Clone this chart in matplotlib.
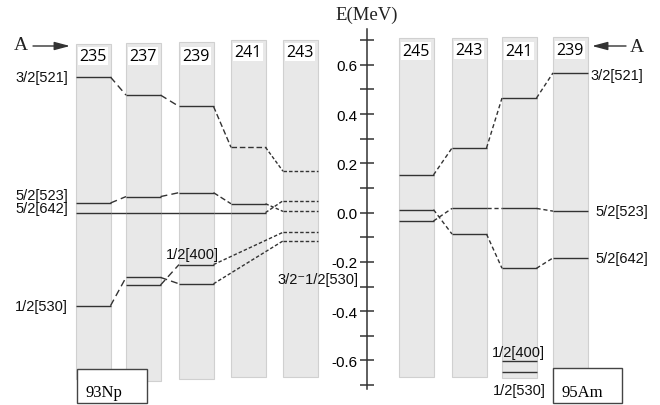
import matplotlib
matplotlib.use('Agg')
import matplotlib.pyplot as plt
from matplotlib.patches import Rectangle

plt.rcParams['font.family'] = ['Liberation Sans', 'DejaVu Sans']
plt.rcParams['axes.unicode_minus'] = False

# isotopes (mass number A) shown in each panel
np_columns = ['235', '237', '239', '241', '243']
am_columns = ['245', '243', '241', '239']

# single-particle level energies in MeV, one value per column (None = not shown)
np_3_2_521 = [0.550, 0.477, 0.431, 0.265, 0.168]
np_5_2_523 = [0.039, 0.065, 0.081, 0.036, 0.005]
np_5_2_642 = [0.000, 0.000, 0.000, 0.000, 0.048]
np_1_2_530 = [-0.378, -0.263, -0.289, None, -0.115]
np_1_2_400 = [None, -0.294, -0.211, None, -0.080]

am_3_2_521 = [0.153, 0.262, 0.465, 0.567]
am_5_2_523 = [-0.034, 0.017, 0.017, 0.006]
am_5_2_642 = [0.012, -0.087, -0.226, -0.184]
am_1_2_400 = [None, None, -0.604, None]
am_1_2_530 = [None, None, -0.648, None]

# layout: the reference is drawn in pixel columns, energy maps to pixel rows
PX_PER_MEV = 246.4
ROW_OF_ZERO = 213.6


def e_of_row(row):
    return (ROW_OF_ZERO - row) / PX_PER_MEV


np_left = [76, 126, 179, 231, 283]
np_top = [45, 44, 43, 41, 41]
np_bottom = [380, 382, 380, 378, 378]
np_label_row = [57, 57, 57, 53, 53]
am_left = [399, 452, 502, 553]
am_top = [39, 39, 38, 38]
am_bottom = [378, 378, 379, 378]
am_label_row = [52, 51, 52, 51]
BAR_W = 34.5

LINE_C = '#333333'
BAR_FC = '#e8e8e8'
BAR_EC = '#d0d0d0'
LONG_DASH = (0, (5, 3))
MID_DASH = (0, (4, 2))
FINE_DASH = (0, (2.5, 1.5))

fig = plt.figure(figsize=(6.6, 4.06), dpi=100)
ax = fig.add_axes([0, 0, 1, 1])
ax.set_xlim(0, 660)
ax.set_ylim(e_of_row(406), e_of_row(0))
ax.patch.set_alpha(0)


def draw_bars(lefts, tops, bottoms, names, label_rows):
    centers = [l + BAR_W / 2 for l in lefts]
    heights = [e_of_row(t) - e_of_row(b) for t, b in zip(tops, bottoms)]
    ax.bar(centers, heights, bottom=[e_of_row(b) for b in bottoms], width=BAR_W,
           color=BAR_FC, edgecolor=BAR_EC, linewidth=0.8, zorder=1)
    for c, n, r in zip(centers, names, label_rows):
        ax.text(c, e_of_row(r), n, ha='center', va='center', fontsize=11.5,
                family='Open Sans', zorder=5,
                bbox=dict(fc='white', ec='none', pad=1.0))


def draw_levels(lefts, values, level_style, gap_style):
    prev = None
    for i, v in enumerate(values):
        if v is None:
            continue
        x0 = lefts[i]
        ax.plot([x0, x0 + BAR_W], [v, v], color=LINE_C, lw=1.0,
                linestyle=level_style(i), zorder=3, solid_capstyle='butt')
        if prev is not None:
            j, pv = prev
            ax.plot([lefts[j] + BAR_W, x0], [pv, v], color=LINE_C, lw=1.0,
                    linestyle=gap_style(j, i), zorder=3, solid_capstyle='butt')
        prev = (i, v)


draw_bars(np_left, np_top, np_bottom, np_columns, np_label_row)
draw_bars(am_left, am_top, am_bottom, am_columns, am_label_row)

last = len(np_columns) - 1


def np_level(i, dashed_at=()):
    if i == last:
        return FINE_DASH
    if i in dashed_at:
        return MID_DASH
    return '-'


def np_gap(j, i, solid=False):
    if i == last:
        return FINE_DASH
    if solid:
        return '-'
    return LONG_DASH if i < 3 else MID_DASH


draw_levels(np_left, np_3_2_521, lambda i: np_level(i, dashed_at=(3,)), np_gap)
draw_levels(np_left, np_5_2_523, np_level, np_gap)
draw_levels(np_left, np_5_2_642, np_level, lambda j, i: np_gap(j, i, solid=True))
draw_levels(np_left, np_1_2_530, np_level, np_gap)
draw_levels(np_left, np_1_2_400, np_level, np_gap)

for series in [am_3_2_521, am_5_2_523, am_5_2_642, am_1_2_400, am_1_2_530]:
    draw_levels(am_left, series, lambda i: '-', lambda j, i: (0, (3, 2)))

# level labels
lab = dict(fontsize=10.5, color='#111111', zorder=6)
ax.text(68, np_3_2_521[0], '3/2[521]', ha='right', va='center', **lab)
ax.annotate('5/2[523]', (68, np_5_2_523[0]), xytext=(0, 8), textcoords='offset pixels',
            ha='right', va='center', **lab)
ax.annotate('5/2[642]', (68, np_5_2_642[0]), xytext=(0, 5), textcoords='offset pixels',
            ha='right', va='center', **lab)
ax.text(68, np_1_2_530[0], '1/2[530]', ha='right', va='center', **lab)
ax.annotate('1/2[400]', (192, np_1_2_400[2]), xytext=(0, 11), textcoords='offset pixels',
            ha='center', va='center', **lab)
ax.annotate('3/2\u207b1/2[530]', (318, np_1_2_530[4]), xytext=(0, -38),
            textcoords='offset pixels', ha='center', va='center', **lab)

ax.annotate('3/2[521]', (590, am_3_2_521[3]), xytext=(0, -2), textcoords='offset pixels',
            ha='left', va='center', **lab)
ax.text(595, am_5_2_523[3], '5/2[523]', ha='left', va='center', **lab)
ax.text(595, am_5_2_642[3], '5/2[642]', ha='left', va='center', **lab)
ax.annotate('1/2[400]', (518, am_1_2_400[2]), xytext=(0, 9), textcoords='offset pixels',
            ha='center', va='center', **lab)
ax.annotate('1/2[530]', (519, am_1_2_530[2]), xytext=(0, -18), textcoords='offset pixels',
            ha='center', va='center', **lab)

# element boxes
for x0, w, top, txt in [(77, 70, 370, '93Np'), (553, 69, 369, '95Am')]:
    ax.add_patch(Rectangle((x0, e_of_row(404)), w, e_of_row(top) - e_of_row(404),
                           fc='white', ec='#444444', lw=1.0, zorder=7))
    ax.text(x0 + 9, e_of_row(397), txt, ha='left', va='baseline', fontsize=12,
            family='Liberation Serif', zorder=8)

# mass-number arrows
arrow = dict(arrowstyle='-|>,head_length=0.94,head_width=0.25', color=LINE_C,
             lw=1.0, shrinkA=0, shrinkB=0, mutation_scale=10)
ax.annotate('', xy=(70, e_of_row(47)), xytext=(33, e_of_row(47)), arrowprops=arrow)
ax.annotate('', xy=(592, e_of_row(47)), xytext=(626, e_of_row(47)), arrowprops=arrow)
ax.text(21, e_of_row(45), 'A', ha='center', va='center', fontsize=14,
        family='Liberation Serif', color='#222222')
ax.text(637, e_of_row(47), 'A', ha='center', va='center', fontsize=14,
        family='Liberation Serif', color='#222222')
ax.text(367, e_of_row(15), 'E(MeV)', ha='center', va='center', fontsize=13.5,
        family='Liberation Serif', color='#222222')

# energy axis drawn through the middle of the figure
for s in ['top', 'right', 'bottom']:
    ax.spines[s].set_visible(False)
ax.spines['left'].set_position(('data', 367))
ax.spines['left'].set_bounds(e_of_row(390), e_of_row(30))
ax.spines['left'].set_color(LINE_C)
ax.spines['left'].set_linewidth(1.1)
ax.set_xticks([])
ax.set_yticks([-0.6, -0.4, -0.2, 0.0, 0.2, 0.4, 0.6])
ax.set_yticklabels(['%.1f' % t for t in ax.get_yticks()])
ax.set_yticks([-0.7, -0.5, -0.3, -0.1, 0.1, 0.3, 0.5, 0.7], minor=True)
ax.tick_params(axis='y', which='both', direction='inout', length=10, width=1.1,
               color=LINE_C, labelsize=11, pad=2)

fig.savefig('out.png', dpi=100)
